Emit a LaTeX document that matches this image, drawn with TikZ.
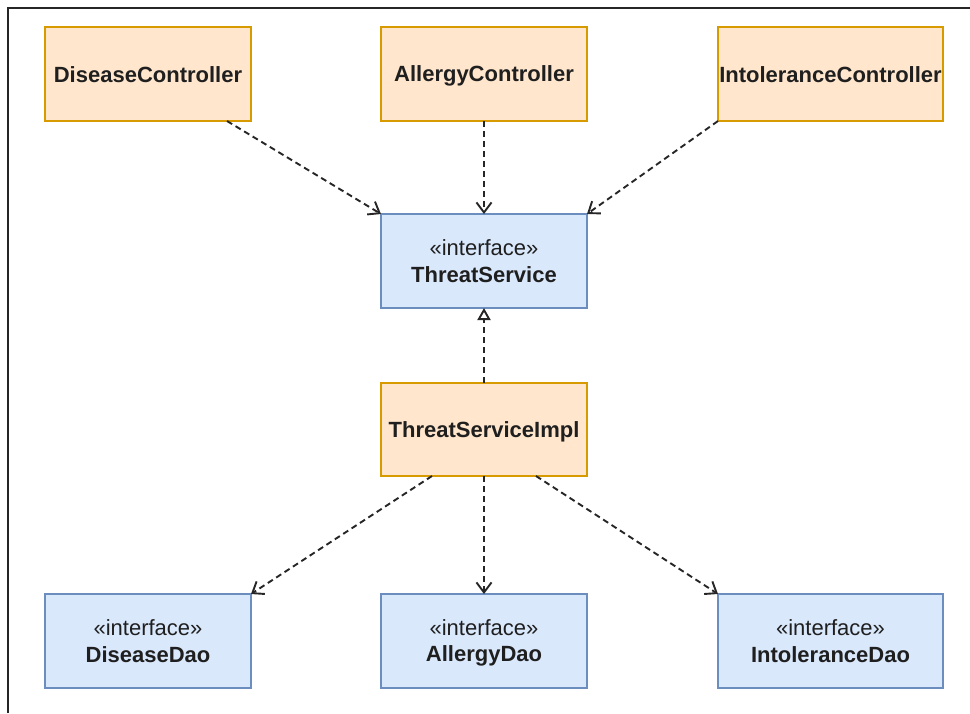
\documentclass[tikz,border=0pt]{standalone}
\usepackage{fontspec}
\setmainfont{Liberation Sans}
\usetikzlibrary{arrows.meta,calc}

\definecolor{implfill}{HTML}{FFE6CC}
\definecolor{impldraw}{HTML}{D79B00}
\definecolor{ifacefill}{HTML}{DAE8FC}
\definecolor{ifacedraw}{HTML}{6C8EBF}
\definecolor{linkcol}{HTML}{262626}

% fixed line height so that every label sits at the same baseline
\newcommand\boxstrut{\vrule height 20pt depth 4pt width 0pt}

\tikzset{
  box/.style={rectangle, line width=1.8pt, minimum height=94pt, inner sep=0pt,
    outer sep=0pt, align=center, text=black!88,
    font=\fontsize{22}{26.5}\selectfont},
  concrete/.style={box, fill=implfill, draw=impldraw,
    font=\fontsize{22}{26.5}\selectfont\bfseries},
  iface/.style={box, fill=ifacefill, draw=ifacedraw},
  uses/.style={draw=linkcol, line width=1.9pt, dash pattern=on 6pt off 4pt,
    -{Straight Barb[length=10pt,width=15pt,line width=1.9pt]}},
  realizes/.style={draw=linkcol, line width=1.9pt, dash pattern=on 6pt off 4pt,
    -{Triangle[open,length=12pt,width=13pt,line width=1.9pt,fill=white]}}
}

\begin{document}
\begin{tikzpicture}[x=1pt,y=-1pt]
  \useasboundingbox (0,0) rectangle (970,713);
  % outer frame
  \draw[line width=2pt, black!85] (8,713) -- (8,8) -- (970,8);

  % controllers
  \node[concrete, minimum width=206pt] (dc) at (148,74) {\boxstrut DiseaseController};
  \node[concrete, minimum width=206pt] (ac) at (484,74) {\boxstrut AllergyController};
  \node[concrete, minimum width=225pt] (ic) at (830.5,74) {\boxstrut IntoleranceController};

  % service layer
  \node[iface, minimum width=206pt] (ts) at (484,261)
    {\boxstrut «interface»\\\boxstrut\textbf{ThreatService}};
  \node[concrete, minimum width=206pt, minimum height=93pt] (impl) at (484,429.5)
    {\boxstrut ThreatServiceImpl};

  % data access layer
  \node[iface, minimum width=206pt] (dd) at (148,641)
    {\boxstrut «interface»\\\boxstrut\textbf{DiseaseDao}};
  \node[iface, minimum width=206pt] (ad) at (484,641)
    {\boxstrut «interface»\\\boxstrut\textbf{AllergyDao}};
  \node[iface, minimum width=225pt] (id) at (830.5,641)
    {\boxstrut «interface»\\\boxstrut\textbf{IntoleranceDao}};

  % edge start points on the box borders
  \coordinate (dcOut) at ($(dc.south east)+(-24,0)$);
  \coordinate (implL) at ($(impl.south west)+(51,0)$);
  \coordinate (implR) at ($(impl.south east)+(-51,0)$);

  % dependencies
  \draw[uses] (dcOut) -- (ts.north west);
  \draw[uses] (ac.south) -- (ts.north);
  \draw[uses] (ic.south west) -- (ts.north east);
  \draw[realizes] (impl.north) -- (ts.south);
  \draw[uses] (implL) -- (dd.north east);
  \draw[uses] (impl.south) -- (ad.north);
  \draw[uses] (implR) -- (id.north west);
\end{tikzpicture}
\end{document}
